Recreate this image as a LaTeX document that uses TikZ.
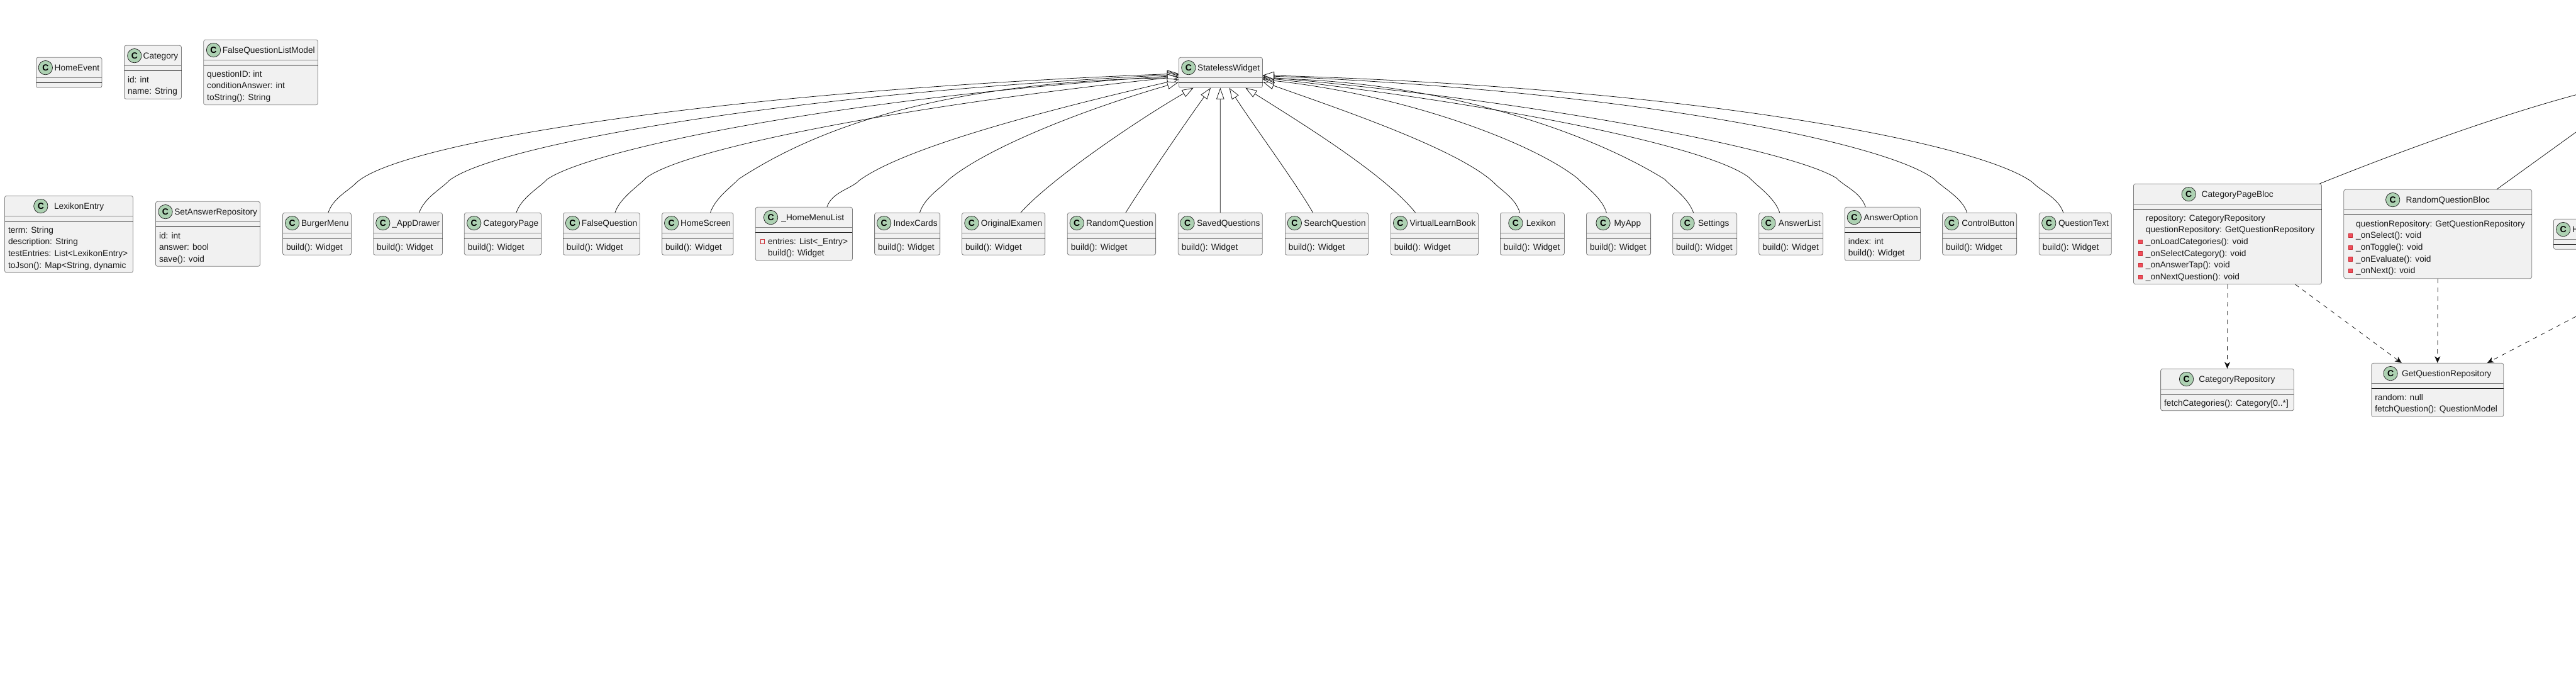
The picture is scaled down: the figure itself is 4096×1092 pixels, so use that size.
\documentclass[tikz,border=0pt]{standalone}
\usepackage{fontspec}
\setmainfont{Liberation Sans}
\usetikzlibrary{arrows.meta}
\definecolor{classfill}{HTML}{F1F1F1}
\definecolor{classedge}{HTML}{7F7F7F}
\definecolor{badgefill}{HTML}{ADD1B2}
\definecolor{hiddenfill}{HTML}{F24D5C}
\definecolor{hiddenedge}{HTML}{C82930}
\newcommand{\titlefont}{\fontsize{13.7}{16}\selectfont}
\tikzset{
  classbody/.style={draw=classedge,fill=classfill,rounded corners=3pt,line width=0.8pt,inner sep=0pt},
  headrule/.style={draw=classedge,line width=0.8pt},
  bodyrule/.style={draw=black!90,line width=0.6pt},
  badge/.style={circle,draw=black!90,fill=badgefill,line width=0.7pt,minimum size=22.4pt,inner sep=0pt,font=\fontsize{14}{14}\selectfont\bfseries},
  classtitle/.style={anchor=base,inner sep=0pt,font=\titlefont,text=black!90},
  membertext/.style={anchor=base west,inner sep=0pt,font=\titlefont,text=black!90},
  hiddenmethod/.style={rectangle,draw=hiddenedge,fill=hiddenfill,line width=0.6pt,minimum size=6.2pt,inner sep=0pt},
  hiddenfield/.style={rectangle,draw=hiddenedge,fill=none,line width=0.7pt,minimum size=6.2pt,inner sep=0pt},
  extends/.style={draw=black!95,line width=0.75pt,-{Triangle[length=18pt,width=12.5pt,fill=white]}},
  extendsfree/.style={draw=black!95,line width=0.75pt},
  uses/.style={draw=black!95,line width=0.75pt,dash pattern=on 7pt off 7pt,-{Stealth[length=10.5pt,width=9pt,inset=3pt]}},
}
% [gap], id, left, top, right, bottom, title
\newcommand{\classbox}[7][2.8]{
  \node[classbody,minimum width={(#5-#3)*1pt},minimum height={(#6-#4)*1pt}] (#2) at ({(#3+#5)/2},{(#4+#6)/2}) {};
  \draw[headrule] (#3,#4+32) -- (#5,#4+32);
  \draw[bodyrule] (#3,#4+40) -- (#5,#4+40);
  \node[classtitle] (#2-title) at ({(#3+#5)/2+(22.6+#1)/2},#4+21.5) {#7};
  \node[badge] (#2-badge) at ([xshift={-(#1+11.3)*1pt},yshift=5.2pt]#2-title.base west) {C};
}
\newcommand{\member}[4][5.7]{
  \node[membertext] (#2-m#3) at ([xshift=#1pt,yshift={-(59.4+18.6*(#3-1))*1pt}]#2.north west) {#4};
}
\newcommand{\visicon}[3]{
  \node[#3] (#1-v#2) at ([xshift=11.3pt,yshift={-(55+18.6*(#2-1))*1pt}]#1.north west) {};
}
\begin{document}
\begin{tikzpicture}[x=1pt,y=-1pt]
\path[use as bounding box,clip] (0,0) rectangle (4096,1092);  % the page cuts off the right side

\classbox{HomeEvent}{57.5}{91.3}{162}{139.3}{HomeEvent}
\classbox[2.4]{Category}{197.5}{72.3}{288.5}{157.3}{Category}
\member{Category}{1}{id: int}
\member{Category}{2}{name: String}
\classbox{FalseQuestionListModel}{323.7}{63.3}{505.5}{166.7}{FalseQuestionListModel}
\member{FalseQuestionListModel}{1}{questionID: int}
\member{FalseQuestionListModel}{2}{conditionAnswer: int}
\member{FalseQuestionListModel}{3}{toString(): String}
\classbox{StatelessWidget}{1874.3}{91.3}{2007.5}{139.3}{StatelessWidget}

\classbox[9.7]{LexikonEntry}{7.5}{311.3}{211.5}{433.3}{LexikonEntry}
\member{LexikonEntry}{1}{term: String}
\member{LexikonEntry}{2}{description: String}
\member{LexikonEntry}{3}{testEntries: List<LexikonEntry>}
\member{LexikonEntry}{4}{toJson(): Map<String, dynamic}
\classbox{SetAnswerRepository}{247.5}{320.3}{413.5}{423.3}{SetAnswerRepository}
\member{SetAnswerRepository}{1}{id: int}
\member{SetAnswerRepository}{2}{answer: bool}
\member{SetAnswerRepository}{3}{save(): void}

\classbox[3]{BurgerMenu}{449.5}{338.3}{558.4}{405.3}{BurgerMenu}
\member{BurgerMenu}{1}{build(): Widget}
\classbox[3]{AppDrawer}{593.7}{338.3}{703.5}{405.3}{\_AppDrawer}
\member{AppDrawer}{1}{build(): Widget}
\classbox[3.5]{CategoryPage}{738.3}{338.3}{860.6}{405.3}{CategoryPage}
\member{CategoryPage}{1}{build(): Widget}
\classbox[3]{FalseQuestion}{895.4}{338.3}{1017.3}{405.3}{FalseQuestion}
\member{FalseQuestion}{1}{build(): Widget}
\classbox[3]{HomeScreen}{1052.6}{338.3}{1166}{405.3}{HomeScreen}
\member{HomeScreen}{1}{build(): Widget}
\classbox[5.4]{HomeMenuList}{1201.3}{329.3}{1355.4}{414.3}{\_HomeMenuList}
\visicon{HomeMenuList}{1}{hiddenfield}
\member[20]{HomeMenuList}{1}{entries: List<\_Entry>}
\member[20]{HomeMenuList}{2}{build(): Widget}
\classbox[3.5]{IndexCards}{1390.6}{338.3}{1494.6}{405.3}{IndexCards}
\member{IndexCards}{1}{build(): Widget}
\classbox[3.5]{OriginalExamen}{1529.5}{338.3}{1661.6}{405.3}{OriginalExamen}
\member{OriginalExamen}{1}{build(): Widget}
\classbox[3.5]{RandomQuestion}{1697.3}{338.3}{1837.6}{405.3}{RandomQuestion}
\member{RandomQuestion}{1}{build(): Widget}
\classbox[3.5]{SavedQuestions}{1873.3}{338.3}{2007.2}{405.3}{SavedQuestions}
\member{SavedQuestions}{1}{build(): Widget}
\classbox[3.5]{SearchQuestion}{2043.4}{338.3}{2175.5}{405.3}{SearchQuestion}
\member{SearchQuestion}{1}{build(): Widget}
\classbox[3.5]{VirtualLearnBook}{2211.3}{338.3}{2350.5}{405.3}{VirtualLearnBook}
\member{VirtualLearnBook}{1}{build(): Widget}
\classbox[5.4]{Lexikon}{2385.4}{338.3}{2487.4}{405.3}{Lexikon}
\member{Lexikon}{1}{build(): Widget}
\classbox[6]{MyApp}{2522.5}{338.3}{2624.6}{405.3}{MyApp}
\member{MyApp}{1}{build(): Widget}
\classbox[5.5]{Settings}{2659.7}{338.3}{2761.7}{405.3}{Settings}
\member{Settings}{1}{build(): Widget}
\classbox[4.5]{AnswerList}{2796.8}{338.3}{2898.8}{405.3}{AnswerList}
\member{AnswerList}{1}{build(): Widget}
\classbox[3.8]{AnswerOption}{2933.4}{329.3}{3053.5}{414.3}{AnswerOption}
\member{AnswerOption}{1}{index: int}
\member{AnswerOption}{2}{build(): Widget}
\classbox[4.5]{ControlButton}{3088.6}{338.3}{3206.6}{405.3}{ControlButton}
\member{ControlButton}{1}{build(): Widget}
\classbox[3.7]{QuestionText}{3242.3}{338.3}{3357.3}{405.3}{QuestionText}
\member{QuestionText}{1}{build(): Widget}

\classbox[8.9]{CategoryPageBloc}{3392.4}{292.3}{3691.5}{451.7}{CategoryPageBloc}
\member[19.7]{CategoryPageBloc}{1}{repository: CategoryRepository}
\member[19.7]{CategoryPageBloc}{2}{questionRepository: GetQuestionRepository}
\visicon{CategoryPageBloc}{3}{hiddenmethod}
\member[19.7]{CategoryPageBloc}{3}{\_onLoadCategories(): void}
\visicon{CategoryPageBloc}{4}{hiddenmethod}
\member[19.7]{CategoryPageBloc}{4}{\_onSelectCategory(): void}
\visicon{CategoryPageBloc}{5}{hiddenmethod}
\member[19.7]{CategoryPageBloc}{5}{\_onAnswerTap(): void}
\visicon{CategoryPageBloc}{6}{hiddenmethod}
\member[19.7]{CategoryPageBloc}{6}{\_onNextQuestion(): void}
\classbox[9.4]{RandomQuestionBloc}{3726.7}{301.3}{4025.7}{442.7}{RandomQuestionBloc}
\member[19.7]{RandomQuestionBloc}{1}{questionRepository: GetQuestionRepository}
\visicon{RandomQuestionBloc}{2}{hiddenmethod}
\member[19.7]{RandomQuestionBloc}{2}{\_onSelect(): void}
\visicon{RandomQuestionBloc}{3}{hiddenmethod}
\member[19.7]{RandomQuestionBloc}{3}{\_onToggle(): void}
\visicon{RandomQuestionBloc}{4}{hiddenmethod}
\member[19.7]{RandomQuestionBloc}{4}{\_onEvaluate(): void}
\visicon{RandomQuestionBloc}{5}{hiddenmethod}
\member[19.7]{RandomQuestionBloc}{5}{\_onNext(): void}
\classbox{CutOffClass}{4060.4}{348.3}{4104}{396.3}{H}
\classbox[8.4]{CategoryRepository}{3435.6}{586.3}{3647.3}{652.7}{CategoryRepository}
\member{CategoryRepository}{1}{fetchCategories(): Category[0..*]}
\classbox[6.6]{GetQuestionRepository}{3770.8}{577.3}{3980.7}{662.3}{GetQuestionRepository}
\member{GetQuestionRepository}{1}{random: null}
\member{GetQuestionRepository}{2}{fetchQuestion(): QuestionModel}

% left of StatelessWidget
\draw[extends] ([xshift=18pt]BurgerMenu.north) .. controls (530,314) and (555,303) .. (567,290) .. controls (640,225) and (1150,145) .. ([yshift=-1.7pt]StatelessWidget.west);
\draw[extends] ([xshift=18pt]AppDrawer.north) .. controls (675,314) and (702,300) .. (714,287) .. controls (785,232) and (1230,150) .. ([yshift=-3.2pt]StatelessWidget.west);
\draw[extends] ([xshift=21.5pt]CategoryPage.north) .. controls (829,314) and (858,298) .. (870,285) .. controls (935,240) and (1310,158) .. ([yshift=-4.7pt]StatelessWidget.west);
\draw[extends] ([xshift=21.6pt]FalseQuestion.north) .. controls (986,314) and (1015,296) .. (1027,283) .. controls (1085,238) and (1420,170) .. ([yshift=-6.7pt]StatelessWidget.west);
\draw[extends] ([xshift=20.2pt]HomeScreen.north) .. controls (1138,314) and (1162,298) .. (1174,285) .. controls (1285,212) and (1480,130) .. ([yshift=-8.2pt]StatelessWidget.west);
\draw[extends] ([xshift=36.6pt]HomeMenuList.north) .. controls (1323,305) and (1354,300) .. (1366,287) .. controls (1430,240) and (1620,185) .. ([yshift=-11.2pt]StatelessWidget.west);
\draw[extends] ([xshift=19.9pt]IndexCards.north) .. controls (1470,314) and (1497,298) .. (1509,285) .. controls (1570,235) and (1720,175) .. ([yshift=-15.4pt]StatelessWidget.west);
% below StatelessWidget
\draw[extends] ([xshift=27.5pt]OriginalExamen.north) .. controls (1670,285) and (1810,190) .. ([xshift=-43.4pt]StatelessWidget.south);
\draw[extends] ([xshift=22.5pt]RandomQuestion.north) .. controls (1820,290) and (1885,195) .. ([xshift=-15.9pt]StatelessWidget.south);
\draw[extends] (SavedQuestions.north) -- ([xshift=-0.6pt]StatelessWidget.south);
\draw[extends] ([xshift=-21.9pt]SearchQuestion.north) .. controls (2060,290) and (1990,195) .. ([xshift=13.7pt]StatelessWidget.south);
\draw[extends] ([xshift=-30.4pt]VirtualLearnBook.north) .. controls (2200,275) and (2060,190) .. ([xshift=39.5pt]StatelessWidget.south);
% right of StatelessWidget
\draw[extends] ([xshift=-19.8pt]Lexikon.north) .. controls (2409,314) and (2387,303) .. (2375,290) .. controls (2315,235) and (2120,170) .. ([yshift=-14.7pt]StatelessWidget.east);
\draw[extends] ([xshift=-19.2pt]MyApp.north) .. controls (2547,314) and (2521,297) .. (2509,284) .. controls (2435,225) and (2230,150) .. ([yshift=-11.2pt]StatelessWidget.east);
\draw[extends] ([xshift=-18.1pt]Settings.north) .. controls (2684,314) and (2659,298) .. (2647,285) .. controls (2530,212) and (2300,130) .. ([yshift=-9.2pt]StatelessWidget.east);
\draw[extends] ([xshift=-18.1pt]AnswerList.north) .. controls (2822,314) and (2793,295) .. (2781,282) .. controls (2715,232) and (2380,165) .. ([yshift=-8.2pt]StatelessWidget.east);
\draw[extends] ([xshift=-27.2pt]AnswerOption.north) .. controls (2958,305) and (2932,296) .. (2920,283) .. controls (2850,240) and (2480,165) .. ([yshift=-6.7pt]StatelessWidget.east);
\draw[extends] ([xshift=-20pt]ControlButton.north) .. controls (3120,314) and (3088,298) .. (3076,285) .. controls (3000,227) and (2600,145) .. ([yshift=-5.2pt]StatelessWidget.east);
\draw[extends] ([xshift=-19.1pt]QuestionText.north) .. controls (3273,314) and (3244,303) .. (3232,290) .. controls (3150,228) and (2700,140) .. ([yshift=-4.2pt]StatelessWidget.east);

% these run on past the right side
\coordinate (BlocParentA) at (4096,150.7);
\coordinate (BlocParentB) at (4096,210);
\coordinate (BlocSibling) at (4096,503);
\draw[extendsfree] ([xshift=146.5pt]CategoryPageBloc.north) .. controls (3780,255) and (3950,190) .. (BlocParentA);
\draw[extendsfree] ([xshift=93.8pt]RandomQuestionBloc.north) -- (BlocParentB);

\draw[uses] (CategoryPageBloc.south) -- (CategoryRepository.north);
\draw[uses] ([xshift=107.7pt]CategoryPageBloc.south) -- ([xshift=-57pt]GetQuestionRepository.north);
\draw[uses] (RandomQuestionBloc.south) -- (GetQuestionRepository.north);
\draw[uses] (BlocSibling) -- ([xshift=79pt]GetQuestionRepository.north);
\end{tikzpicture}
\end{document}
